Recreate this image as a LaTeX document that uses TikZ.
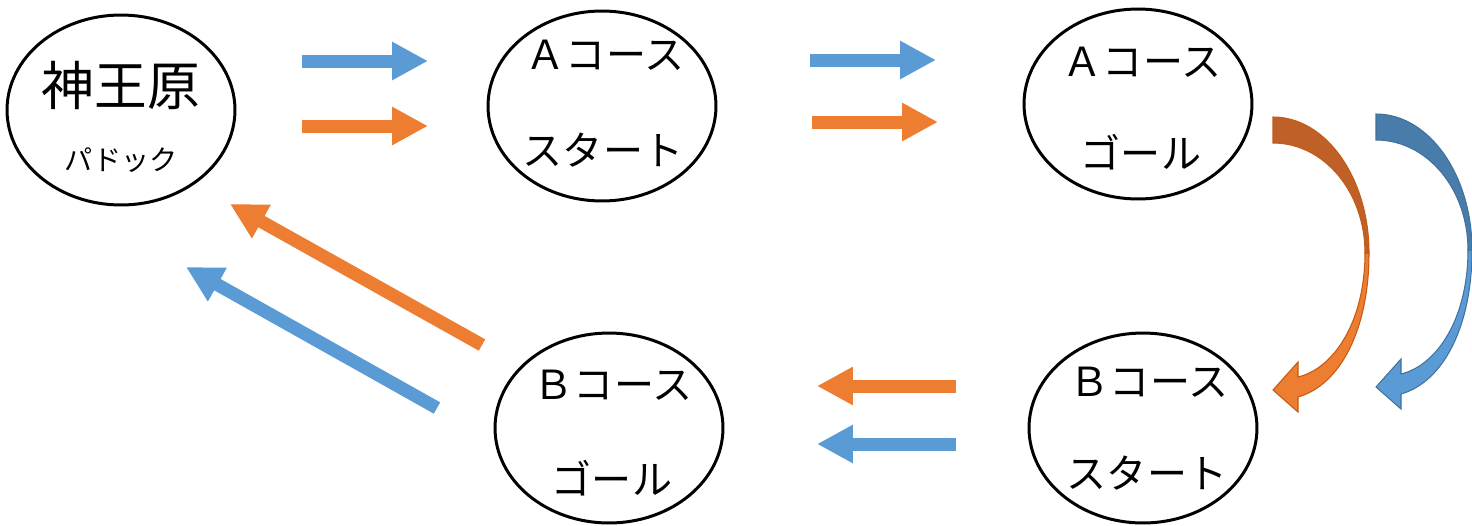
\documentclass[tikz,border=0pt]{standalone}
\usepackage{fontspec}
\setmainfont{Noto Sans CJK JP}
\usetikzlibrary{shapes.geometric,arrows.meta}
\definecolor{blu}{RGB}{91,155,213}
\definecolor{ora}{RGB}{237,125,49}
\definecolor{bludark}{RGB}{72,124,170}
\definecolor{oradark}{RGB}{190,96,40}
\definecolor{bluline}{RGB}{65,113,156}
\definecolor{oraline}{RGB}{197,90,17}
\tikzset{
 spot/.style={draw,ellipse,line width=1.7pt,inner sep=0pt,minimum width=4.56cm,minimum height=3.8cm},
 big/.style={font=\fontsize{30}{36}\selectfont},
 small/.style={font=\fontsize{16}{19}\selectfont},
 lbl/.style={font=\fontsize{22.8}{27}\selectfont},
 fat/.style={line width=0.26cm,-{Triangle[length=0.72cm,width=0.72cm]}}
}
% curved block arrow: shift, light fill, dark fill, outline
\newcommand\bendarrow[4]{%
 \begin{scope}[shift={#1}]
  \filldraw[fill=#3,draw=#4,line width=0.6pt](1273,117) .. controls (1326,117) and (1369,178) .. (1369,253)--(1365,253) .. controls (1365,192) and (1324,143) .. (1273,143)--cycle;
  \filldraw[fill=#2,draw=#4,line width=0.6pt](1365,253)--(1369,253) .. controls (1369,330) and (1340,385) .. (1298,397)--(1298,412)--(1273,390)--(1298,362)--(1298,377) .. controls (1335,368) and (1365,320) .. (1365,253)--cycle;
 \end{scope}}
\begin{document}
\begin{tikzpicture}[x=0.02cm,y=-0.02cm]
 \useasboundingbox (0,0) rectangle (1472,525);
 % places
 \node[spot] (pd) at (121,110) {};
 \node[spot] (ast) at (602,106) {};
 \node[spot] (agl) at (1138,104) {};
 \node[spot] (bst) at (1143,428) {};
 \node[spot] (bgl) at (609,428) {};
 \node[big] (pdname) at (121,85) {神王原};
 \node[small] (pdsub) at (121,160) {パドック};
 \node[lbl] (asttop) at (605,55) {Ａコース};
 \node[lbl] (astbot) at (603,150) {スタート};
 \node[lbl] (agltop) at (1142,62) {Ａコース};
 \node[lbl] (aglbot) at (1141,152) {ゴール};
 \node[lbl] (bsttop) at (1149,382) {Ｂコース};
 \node[lbl] (bstbot) at (1147,473) {スタート};
 \node[lbl] (bgltop) at (613,385) {Ｂコース};
 \node[lbl] (bglbot) at (612,478) {ゴール};
 % arrow ends
 \coordinate (b1a) at (302,61);  \coordinate (b1b) at (428,61);
 \coordinate (o1a) at (302,126); \coordinate (o1b) at (428,126);
 \coordinate (b2a) at (810,60);  \coordinate (b2b) at (936,60);
 \coordinate (o2a) at (812,122); \coordinate (o2b) at (938,122);
 \coordinate (o3a) at (956,386); \coordinate (o3b) at (817,386);
 \coordinate (b3a) at (956,444); \coordinate (b3b) at (817,444);
 \coordinate (o4a) at (482,345); \coordinate (o4b) at (230,204);
 \coordinate (b4a) at (437,408); \coordinate (b4b) at (186,267);
 \draw[fat,blu] (b1a)--(b1b);
 \draw[fat,ora] (o1a)--(o1b);
 \draw[fat,blu] (b2a)--(b2b);
 \draw[fat,ora] (o2a)--(o2b);
 \draw[fat,ora] (o3a)--(o3b);
 \draw[fat,blu] (b3a)--(b3b);
 \draw[fat,ora] (o4a)--(o4b);
 \draw[fat,blu] (b4a)--(b4b);
 % turn round
 \bendarrow{(0,0)}{ora}{oradark}{oraline}
 \bendarrow{(103,-3)}{blu}{bludark}{bluline}
\end{tikzpicture}
\end{document}
